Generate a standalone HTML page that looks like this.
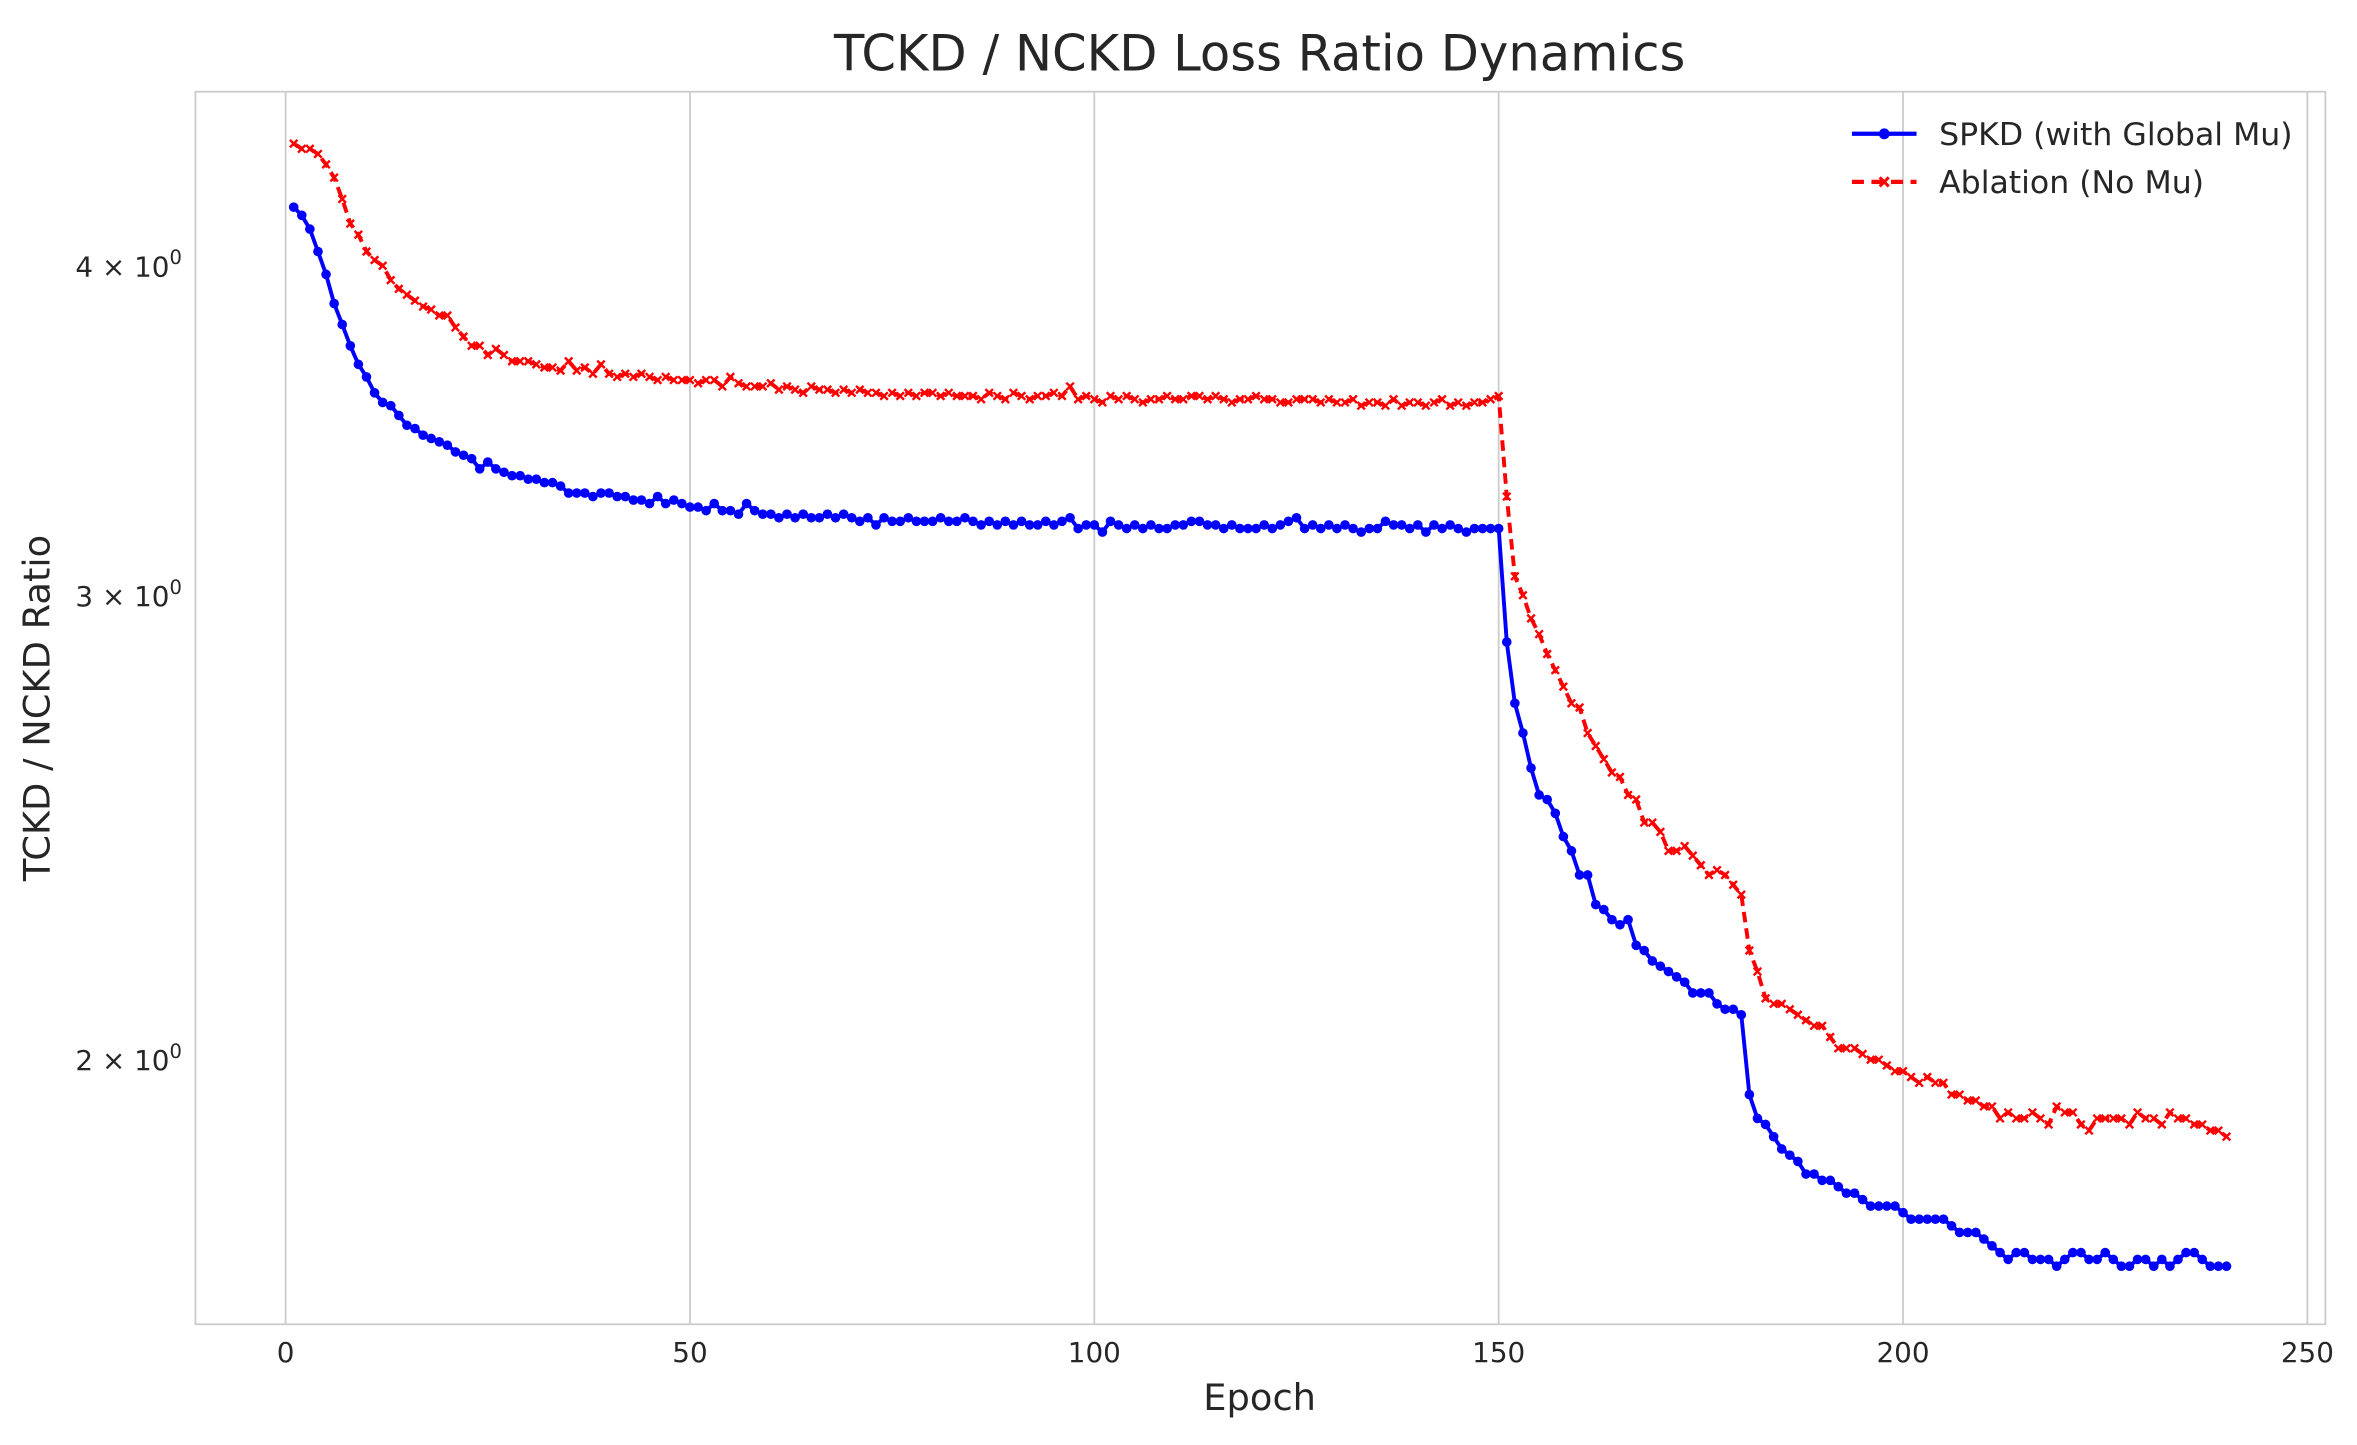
<!DOCTYPE html>
<html><head><meta charset="utf-8"><style>
html,body{margin:0;padding:0;background:#fff;}
svg{display:block;font-family:"DejaVu Sans","Liberation Sans",sans-serif;}
</style></head><body>
<svg id="chart" width="2357" height="1445" viewBox="0 0 1568 961.3" xmlns="http://www.w3.org/2000/svg">
<rect width="1568" height="961.3" fill="#fff"/>
<text x="838" y="47" text-anchor="middle" font-size="33" fill="#262626">TCKD / NCKD Loss Ratio Dynamics</text>
<text x="838" y="938" text-anchor="middle" font-size="24.5" fill="#262626">Epoch</text>
<text transform="translate(33,471) rotate(-90)" text-anchor="middle" font-size="24.5" fill="#262626">TCKD / NCKD Ratio</text>
<g id="grid"></g><g id="series"></g><g id="ticks"></g>
<rect x="130" y="61" width="1417" height="820" fill="none" stroke="#cccccc" stroke-width="1.2"/>
<g>
<g>
<line x1="1232" y1="89" x2="1275" y2="89" stroke="#0000ff" stroke-width="2.8"/>
<circle cx="1253.5" cy="89" r="3.6" fill="#0000ff"/>
<text x="1290" y="96.5" font-size="21" fill="#262626">SPKD (with Global Mu)</text></g>
<g>
<line x1="1232" y1="121" x2="1275" y2="121" stroke="#ff0000" stroke-width="2.8" stroke-dasharray="8,5"/>
<path d="M1250.5,118L1256.5,124M1250.5,124L1256.5,118" stroke="#ff0000" stroke-width="2"/>
<text x="1290" y="128.5" font-size="21" fill="#262626">Ablation (No Mu)</text></g>
</g>
</svg>
<script>
const xTicks=[0,50,100,150,200,250];
const yTicks=[4,3,2];
const yTickLabels=["4","3","2"];
const spkd=[4.21,4.18,4.13,4.05,3.97,3.87,3.80,3.73,3.67,3.63,3.58,3.55,3.54,3.51,3.48,3.47,3.45,3.44,3.43,3.42,3.40,3.39,3.38,3.35,3.37,3.35,3.34,3.33,3.33,3.32,
3.32,3.31,3.31,3.30,3.28,3.28,3.28,3.27,3.28,3.28,3.27,3.27,3.26,3.26,3.25,3.27,3.25,3.26,3.25,3.24,
3.24,3.23,3.25,3.23,3.23,3.22,3.25,3.23,3.22,3.22,3.21,3.22,3.21,3.22,3.21,3.21,3.22,3.21,3.22,3.21,
3.20,3.21,3.19,3.21,3.20,3.20,3.21,3.20,3.20,3.20,3.21,3.20,3.20,3.21,3.20,3.19,3.20,3.19,3.20,3.19,
3.20,3.19,3.19,3.20,3.19,3.20,3.21,3.18,3.19,3.19,3.17,3.20,3.19,3.18,3.19,3.18,3.19,3.18,3.18,3.19,
3.19,3.20,3.20,3.19,3.19,3.18,3.19,3.18,3.18,3.18,3.19,3.18,3.19,3.20,3.21,3.18,3.19,3.18,3.19,3.18,
3.19,3.18,3.17,3.18,3.18,3.20,3.19,3.19,3.18,3.19,3.17,3.19,3.18,3.19,3.18,3.17,3.18,3.18,3.18,3.18,
2.88,2.73,2.66,2.58,2.52,2.51,2.48,2.43,2.40,2.35,2.35,2.29,2.28,2.26,2.25,2.26,2.21,2.20,2.18,2.17,2.16,2.15,2.14,2.12,2.12,2.12,2.10,2.09,2.09,2.08,
1.94,1.90,1.89,1.87,1.85,1.84,1.83,1.81,1.81,1.80,1.80,1.79,1.78,1.78,1.77,1.76,1.76,1.76,1.76,1.75,1.74,1.74,1.74,1.74,1.74,1.73,1.72,1.72,1.72,1.71,
1.70,1.69,1.68,1.69,1.69,1.68,1.68,1.68,1.67,1.68,1.69,1.69,1.68,1.68,1.69,1.68,1.67,1.67,1.68,1.68,1.67,1.68,1.67,1.68,1.69,1.69,1.68,1.67,1.67,1.67];
const ablation=[4.45,4.43,4.43,4.41,4.37,4.32,4.24,4.15,4.11,4.05,4.02,4.00,3.95,3.92,3.90,3.88,3.86,3.85,3.83,3.83,3.79,3.76,3.73,3.73,3.70,3.72,3.70,3.68,3.68,3.68,
3.67,3.66,3.66,3.65,3.68,3.65,3.66,3.64,3.67,3.64,3.63,3.64,3.63,3.64,3.63,3.62,3.63,3.62,3.62,3.62,
3.61,3.62,3.62,3.60,3.63,3.61,3.60,3.60,3.60,3.61,3.59,3.60,3.59,3.58,3.60,3.59,3.59,3.58,3.59,3.58,
3.59,3.58,3.58,3.57,3.58,3.57,3.58,3.57,3.58,3.58,3.57,3.58,3.57,3.57,3.57,3.56,3.58,3.57,3.56,3.58,
3.57,3.56,3.57,3.57,3.58,3.57,3.60,3.56,3.57,3.56,3.55,3.57,3.56,3.57,3.56,3.55,3.56,3.56,3.57,3.56,
3.56,3.57,3.57,3.56,3.57,3.56,3.55,3.56,3.56,3.57,3.56,3.56,3.55,3.55,3.56,3.56,3.56,3.55,3.56,3.55,
3.55,3.56,3.54,3.55,3.55,3.54,3.56,3.54,3.55,3.55,3.54,3.55,3.56,3.54,3.55,3.54,3.55,3.55,3.56,3.57,
3.27,3.05,3.00,2.94,2.90,2.85,2.81,2.77,2.73,2.72,2.66,2.63,2.60,2.57,2.56,2.52,2.51,2.46,2.46,2.44,2.40,2.40,2.41,2.39,2.37,2.35,2.36,2.35,2.33,2.31,
2.20,2.16,2.11,2.10,2.10,2.09,2.08,2.07,2.06,2.06,2.04,2.02,2.02,2.02,2.01,2.00,2.00,1.99,1.98,1.98,1.97,1.96,1.97,1.96,1.96,1.94,1.94,1.93,1.93,1.92,
1.92,1.90,1.91,1.90,1.90,1.91,1.90,1.89,1.92,1.91,1.91,1.89,1.88,1.90,1.90,1.90,1.90,1.89,1.91,1.90,1.90,1.89,1.91,1.90,1.90,1.89,1.89,1.88,1.88,1.87];
const NS="http://www.w3.org/2000/svg";
function xs(e){return 190+e*(1535-190)/250;}
function ys(v){return 396-762*Math.log(v/3);}
function mk(tag,attrs,parent){const el=document.createElementNS(NS,tag);for(const k in attrs)el.setAttribute(k,attrs[k]);parent.appendChild(el);return el;}
const grid=document.getElementById('grid'),ticks=document.getElementById('ticks'),series=document.getElementById('series');
xTicks.forEach(t=>{
  const g=mk('line',{x1:xs(t),x2:xs(t),y1:61,y2:881,stroke:'#cccccc','stroke-width':1.2},grid);
  
  
  const l=mk('text',{x:xs(t),y:906,'text-anchor':'middle','font-size':18.5,fill:'#262626'},ticks);
  
  
  l.textContent=t;
});
yTicks.forEach((t,i)=>{
  const l=mk('text',{x:121,y:ys(t)+7,'text-anchor':'end','font-size':18.5,fill:'#262626'},ticks);
  
  
  l.textContent=yTickLabels[i]+' × 10';
  const s=mk('tspan',{dy:-8,'font-size':13},l);s.textContent='0';
});
function draw(data,color,dash,name,marker){
  const g=mk('g',{},series);
  
  
  const pts=data.map((v,i)=>xs(i+1).toFixed(2)+','+ys(v).toFixed(2)).join(' ');
  const pl=mk('polyline',{points:pts,fill:'none',stroke:color,'stroke-width':2.6,'stroke-linejoin':'round'},g);
  if(dash)pl.setAttribute('stroke-dasharray',dash);
  
  
  data.forEach((v,i)=>{
    const x=xs(i+1),y=ys(v);
    let m;
    if(marker==='o'){m=mk('circle',{cx:x,cy:y,r:3.2,fill:color},g);}
    else{m=mk('path',{d:`M${x-2.5},${y-2.5}L${x+2.5},${y+2.5}M${x-2.5},${y+2.5}L${x+2.5},${y-2.5}`,stroke:color,'stroke-width':1.6},g);}
    
    
  });
}
draw(spkd,'#0000ff',null,'spkd-series','o');
draw(ablation,'#ff0000','7,4','ablation-series','x');
</script>
</body></html>
